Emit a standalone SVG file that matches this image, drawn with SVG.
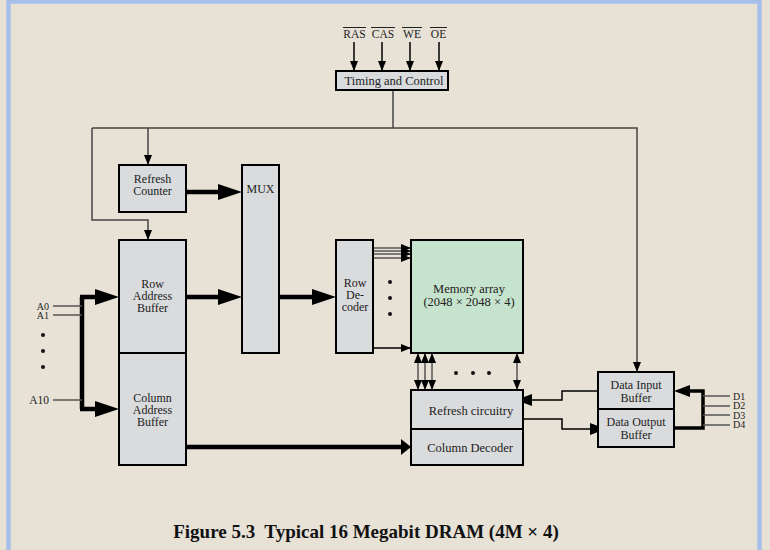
<svg xmlns="http://www.w3.org/2000/svg" width="770" height="550" viewBox="0 0 770 550">
<style>
.box{fill:#d9dbdc;stroke:#000;stroke-width:2}
.mem{fill:#c6e4cd;stroke:#000;stroke-width:2}
.t{font-family:"Liberation Serif","Times New Roman",serif;font-size:12px;fill:#222;text-anchor:middle}
.s{font-family:"Liberation Serif","Times New Roman",serif;font-size:11.5px;fill:#222}
.sm{font-family:"Liberation Serif","Times New Roman",serif;font-size:10px;fill:#222}
.thin{fill:none;stroke:#000;stroke-width:1.5}
.ctl{fill:none;stroke:#444;stroke-width:1.5}
.thick{fill:none;stroke:#000;stroke-width:4.5}
.gray{fill:none;stroke:#555;stroke-width:1.5}
.dot{fill:#111}
</style>
<defs>
<marker id="ah" markerUnits="userSpaceOnUse" markerWidth="10" markerHeight="10" viewBox="0 0 10 10" refX="10" refY="5" orient="auto-start-reverse"><path d="M0,1 L10,5 L0,9 z" fill="#000"/></marker>
<marker id="tah" markerUnits="userSpaceOnUse" markerWidth="24" markerHeight="18" viewBox="0 0 24 18" refX="14" refY="9" orient="auto"><path d="M0,1 L24,9 L0,17 z" fill="#000"/></marker>
<marker id="mah" markerUnits="userSpaceOnUse" markerWidth="16" markerHeight="14" viewBox="0 0 16 14" refX="8" refY="7" orient="auto"><path d="M0,1 L16,7 L0,13 z" fill="#000"/></marker>
</defs>
<rect x="0" y="0" width="770" height="550" fill="#e7e1d6"/>
<path d="M8.5,560 V1.5 H759.5 V560" fill="none" stroke="#a6c0ea" stroke-width="4.5"/>

<g id="connectors">
<path class="thin" d="M354,42 V71" marker-end="url(#ah)"/>
<path class="thin" d="M382,42 V71" marker-end="url(#ah)"/>
<path class="thin" d="M410,42 V71" marker-end="url(#ah)"/>
<path class="thin" d="M439,42 V71" marker-end="url(#ah)"/>
<path class="ctl" d="M393,90 V128"/>
<path class="ctl" d="M92,128 H637 V372" marker-end="url(#ah)"/>
<path class="ctl" d="M92,128 V220 H148 V240" marker-end="url(#ah)"/>
<path class="ctl" d="M148,128 V165" marker-end="url(#ah)"/>
<path class="thick" d="M186,192 H232" marker-end="url(#tah)"/>
<path class="thick" d="M186,297 H232" marker-end="url(#tah)"/>
<path class="thick" d="M279,297 H326" marker-end="url(#tah)"/>
<path class="thick" d="M186,447 H401"/>
<path d="M401,439 L411,447 L401,455 z" fill="#000"/>
<path class="thick" d="M82,297 V409"/>
<path class="thick" d="M80,297 H109" marker-end="url(#tah)"/>
<path class="thick" d="M80,409 H109" marker-end="url(#tah)"/>
<path class="gray" d="M53,306 H82"/>
<path class="gray" d="M53,315 H82"/>
<path class="gray" d="M53,400 H82"/>
<path class="gray" d="M373,248 H411" marker-end="url(#ah)"/>
<path class="gray" d="M373,251 H411" marker-end="url(#ah)"/>
<path class="gray" d="M373,254 H411" marker-end="url(#ah)"/>
<path class="gray" d="M373,258 H411" marker-end="url(#ah)"/>
<path class="thin" d="M373,348 H411" marker-end="url(#ah)"/>
<path class="gray" d="M418,353 V390" marker-start="url(#ah)" marker-end="url(#ah)"/>
<path class="gray" d="M425,353 V390" marker-start="url(#ah)" marker-end="url(#ah)"/>
<path class="gray" d="M432,353 V390" marker-start="url(#ah)" marker-end="url(#ah)"/>
<path class="gray" d="M517,353 V390" marker-start="url(#ah)" marker-end="url(#ah)"/>
<path class="thin" d="M598,391 H562 V400 H524" marker-end="url(#mah)"/>
<path class="thin" d="M524,419 H562 V429 H598" marker-end="url(#mah)"/>
<path d="M674,428 H703 V391 H682" fill="none" stroke="#000" stroke-width="3.5" marker-end="url(#mah)"/>
<path class="gray" d="M703,396 H730"/>
<path class="gray" d="M703,406 H730"/>
<path class="gray" d="M703,415 H730"/>
<path class="gray" d="M703,425 H730"/>
<circle class="dot" cx="43" cy="335" r="2"/>
<circle class="dot" cx="43" cy="351" r="2"/>
<circle class="dot" cx="43" cy="367" r="2"/>
<circle class="dot" cx="390" cy="282" r="2"/>
<circle class="dot" cx="390" cy="298" r="2"/>
<circle class="dot" cx="390" cy="314" r="2"/>
<circle class="dot" cx="456" cy="373" r="2"/>
<circle class="dot" cx="473" cy="373" r="2"/>
<circle class="dot" cx="489" cy="373" r="2"/>
</g>

<g id="signals">
<text class="s" x="354.5" y="38" text-anchor="middle">RAS</text>
<text class="s" x="383" y="38" text-anchor="middle">CAS</text>
<text class="s" x="412" y="38" text-anchor="middle">WE</text>
<text class="s" x="438.5" y="38" text-anchor="middle">OE</text>
<path d="M343,27.5 H366 M371,27.5 H395 M402,27.5 H422 M430,27.5 H447" stroke="#222" stroke-width="1"/>
</g>

<g id="timing">
<rect class="box" x="336" y="71" width="112" height="19"/>
<text class="t" x="394" y="85" style="font-size:12.5px">Timing and Control</text>
</g>
<g id="refresh-counter">
<rect class="box" x="119" y="165" width="67" height="47"/>
<text class="t" x="152.5" y="183">Refresh</text>
<text class="t" x="152.5" y="195">Counter</text>
</g>
<g id="mux">
<rect class="box" x="242" y="165" width="37" height="188"/>
<text class="t" x="260.5" y="193">MUX</text>
</g>
<g id="row-address-buffer">
<rect class="box" x="119" y="240" width="67" height="113"/>
<text class="t" x="152.5" y="288">Row</text>
<text class="t" x="152.5" y="300">Address</text>
<text class="t" x="152.5" y="312">Buffer</text>
</g>
<g id="column-address-buffer">
<rect class="box" x="119" y="353" width="67" height="112"/>
<text class="t" x="152.5" y="402">Column</text>
<text class="t" x="152.5" y="414">Address</text>
<text class="t" x="152.5" y="426">Buffer</text>
</g>
<g id="row-decoder">
<rect class="box" x="336" y="240" width="37" height="113"/>
<text class="t" x="355" y="287">Row</text>
<text class="t" x="355" y="299">De-</text>
<text class="t" x="355" y="311">coder</text>
</g>
<g id="memory-array">
<rect class="mem" x="411" y="240" width="112" height="113"/>
<text class="t" x="469" y="293" style="font-size:12.5px">Memory array</text>
<text class="t" x="469" y="305.5" style="font-size:12.5px">(2048 × 2048 × 4)</text>
</g>
<g id="refresh-circuitry">
<rect class="box" x="411" y="390" width="112" height="39"/>
<text class="t" x="471" y="415" style="font-size:12.5px">Refresh circuitry</text>
</g>
<g id="column-decoder">
<rect class="box" x="411" y="429" width="112" height="36"/>
<text class="t" x="470" y="452" style="font-size:12.5px">Column Decoder</text>
</g>
<g id="data-input-buffer">
<rect class="box" x="598" y="372" width="76" height="37"/>
<text class="t" x="636" y="389">Data Input</text>
<text class="t" x="636" y="402">Buffer</text>
</g>
<g id="data-output-buffer">
<rect class="box" x="598" y="409" width="76" height="38"/>
<text class="t" x="636" y="426">Data Output</text>
<text class="t" x="636" y="439">Buffer</text>
</g>
<g id="address-labels">
<text class="sm" x="49" y="309.5" text-anchor="end">A0</text>
<text class="sm" x="49" y="318.5" text-anchor="end">A1</text>
<text class="s" x="49" y="404" text-anchor="end">A10</text>
</g>
<g id="data-labels">
<text class="sm" x="733" y="399.5">D1</text>
<text class="sm" x="733" y="409">D2</text>
<text class="sm" x="733" y="418.5">D3</text>
<text class="sm" x="733" y="428">D4</text>
</g>
<text x="366" y="538" text-anchor="middle" style="white-space:pre" font-family="Liberation Serif, Times New Roman, serif" font-size="19" font-weight="bold" fill="#111">Figure 5.3  Typical 16 Megabit DRAM (4M × 4)</text>
</svg>
